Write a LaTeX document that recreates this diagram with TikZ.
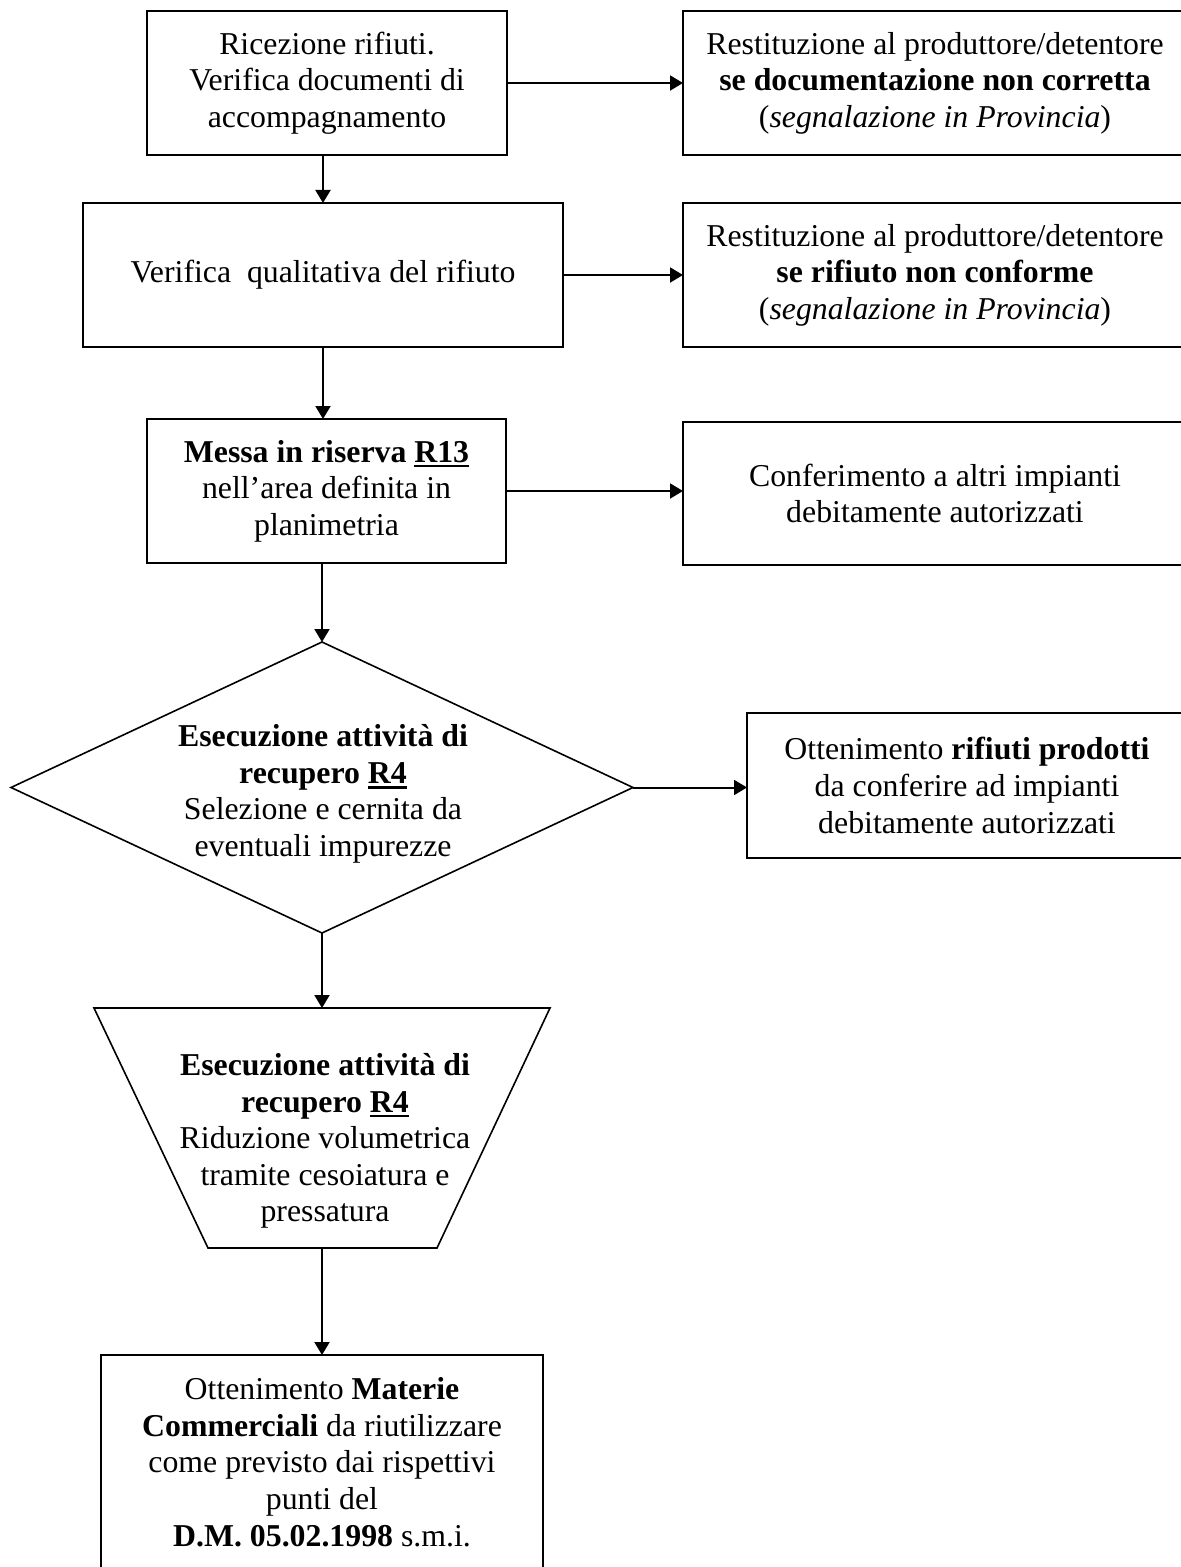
\documentclass[tikz,border=0pt]{standalone}
\usepackage{fontspec}
\setmainfont{Liberation Serif}
\usetikzlibrary{arrows.meta,shapes.geometric}
\newcommand{\thickul}[1]{\begingroup\setbox0\hbox{#1}\rlap{\vrule width\wd0 height -1.4pt depth 2.65pt}\box0\endgroup}
\begin{document}
\begin{tikzpicture}[x=0.5pt,y=-0.5pt,
  every node/.style={font=\fontsize{15.9}{18.3}\selectfont, align=center, inner sep=0pt, outer sep=0pt},
  box/.style={draw, line width=1pt},
  shapeline/.style={draw, line width=0.8pt},
  arr/.style={line width=1pt, -{Triangle[length=6.5pt,width=7.5pt]}},
]
\useasboundingbox (0,0) rectangle (1180,1567);

% left column boxes
\node[box, minimum width=180pt, minimum height=72pt] (b1) at (327,83)
  {Ricezione rifiuti.\\Verifica documenti di\\accompagnamento};
\node[box, minimum width=240pt, minimum height=72pt] (b2) at (323,275)
  {Verifica\ \ qualitativa del rifiuto};
\node[box, minimum width=179.5pt, minimum height=72pt] (b3) at (326.5,491)
  {\textbf{Messa in riserva \thickul{R13}}\\nell'area definita in\\planimetria};

% right column boxes
\node[box, minimum width=252pt, minimum height=72pt] (r1) at (935,83)
  {Restituzione al produttore/detentore\\\textbf{se documentazione non corretta}\\(\textit{segnalazione in Provincia})};
\node[box, minimum width=252pt, minimum height=72pt] (r2) at (935,275)
  {Restituzione al produttore/detentore\\\textbf{se rifiuto non conforme}\\(\textit{segnalazione in Provincia})};
\node[box, minimum width=252pt, minimum height=71.5pt] (r3) at (935,493.5)
  {Conferimento a altri impianti\\debitamente autorizzati};
\node[box, minimum width=220pt, minimum height=72.5pt] (r4) at (967,785.5)
  {Ottenimento \textbf{rifiuti prodotti}\\da conferire ad impianti\\debitamente autorizzati};

% diamond
\node[shapeline, diamond, minimum width=311pt, minimum height=145.5pt] (dm) at (322,787.5) {};
\node (dmt) at (323,794)
  {\textbf{Esecuzione attività di}\\\textbf{recupero \thickul{R4}}\\Selezione e cernita da\\eventuali impurezze};

% trapezoid
\coordinate (tA) at (94,1008);
\coordinate (tB) at (550,1008);
\coordinate (tC) at (437,1248);
\coordinate (tD) at (208,1248);
\coordinate (tTop) at (322,1008);
\coordinate (tBot) at (322,1248);
\draw[shapeline, line join=miter] (tA) -- (tB) -- (tC) -- (tD) -- cycle;
\node (tzt) at (325,1141)
  {\textbf{Esecuzione attività di}\\\textbf{recupero \thickul{R4}}\\Riduzione volumetrica\\tramite cesoiatura e\\pressatura};

% bottom box
\node[box, minimum width=221pt, minimum height=122.5pt] (b4) at (322,1477.5) {};
\node (b4t) at (322,1462)
  {Ottenimento \textbf{Materie}\\\textbf{Commerciali} da riutilizzare\\come previsto dai rispettivi\\punti del\\\textbf{D.M. 05.02.1998} s.m.i.};

% vertical arrows
\draw[arr] (b1.south -| b2.north) -- (b2.north);
\draw[arr] (b2.south) -- (b2.south |- b3.north);
\draw[arr] (b3.south -| dm.north) -- (dm.north);
\draw[arr] (dm.south) -- (tTop);
\draw[arr] (tBot) -- (tBot |- b4.north);

% horizontal arrows
\draw[arr] (b1.east) -- (b1.east -| r1.west);
\draw[arr] (b2.east) -- (b2.east -| r2.west);
\draw[arr] (b3.east) -- (b3.east -| r3.west);
\draw[arr] (dm.east) -- (dm.east -| r4.west);
\end{tikzpicture}
\end{document}
